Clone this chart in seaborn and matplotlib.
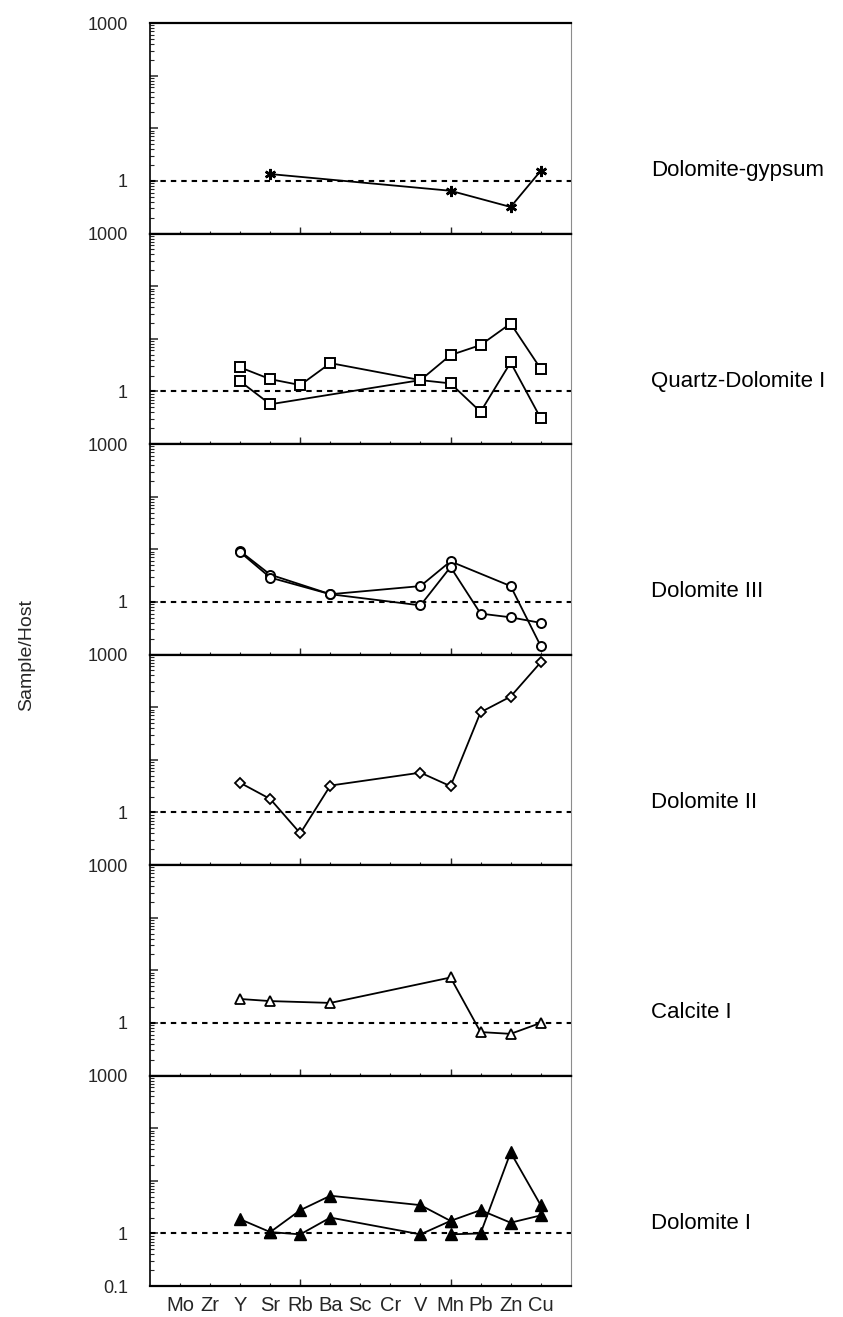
import numpy as np
import pandas as pd
import matplotlib
matplotlib.use("Agg")
import matplotlib.pyplot as plt
import matplotlib.ticker as mticker
import matplotlib.transforms as mtransforms
import seaborn as sns

# Trace-element ratios (sample / host rock) for each mineral generation
elements = ["Mo", "Zr", "Y", "Sr", "Rb", "Ba", "Sc", "Cr", "V", "Mn", "Pb", "Zn", "Cu"]

dolomite_gypsum = {
    "s1": {"Sr": 1.35, "Mn": 0.65, "Zn": 0.32, "Cu": 1.55},
}
quartz_dolomite_1 = {
    "s1": {"Y": 2.86, "Sr": 1.71, "Rb": 1.32, "Ba": 3.45, "V": 1.64,
           "Mn": 4.9, "Pb": 7.6, "Zn": 19.5, "Cu": 2.7},
    "s2": {"Y": 1.55, "Sr": 0.57, "V": 1.64, "Mn": 1.42, "Pb": 0.41,
           "Zn": 3.55, "Cu": 0.31},
}
dolomite_3 = {
    "s1": {"Y": 9.2, "Sr": 3.3, "Ba": 1.4, "V": 2.0, "Mn": 5.9,
           "Zn": 2.0, "Cu": 0.146},
    "s2": {"Y": 8.8, "Sr": 2.9, "Ba": 1.4, "V": 0.86, "Mn": 4.6,
           "Pb": 0.6, "Zn": 0.51, "Cu": 0.40},
}
dolomite_2 = {
    "s1": {"Y": 3.65, "Sr": 1.8, "Rb": 0.40, "Ba": 3.24, "V": 5.7,
           "Mn": 3.15, "Pb": 80, "Zn": 159, "Cu": 710},
}
calcite_1 = {
    "s1": {"Y": 2.85, "Sr": 2.6, "Ba": 2.4, "Mn": 7.3, "Pb": 0.67,
           "Zn": 0.62, "Cu": 1.0},
}
dolomite_1 = {
    "s1": {"Y": 1.86, "Sr": 1.06, "Rb": 2.77, "Ba": 5.2, "V": 3.45,
           "Mn": 1.73, "Pb": 2.77, "Zn": 1.6, "Cu": 2.2},
    "s2": {"Sr": 1.06, "Rb": 0.96, "Ba": 2.0, "V": 0.96, "Mn": 1.73},
    "s3": {"Mn": 0.96, "Pb": 1.0, "Zn": 34.6, "Cu": 3.45},
}

panel_names = ["Dolomite-gypsum", "Quartz-Dolomite I", "Dolomite III",
               "Dolomite II", "Calcite I", "Dolomite I"]
panel_data = [dolomite_gypsum, quartz_dolomite_1, dolomite_3,
              dolomite_2, calcite_1, dolomite_1]

# marker, size, face colour
panel_styles = [
    dict(marker=(6, 2, 0), markersize=8, markerfacecolor="black", markeredgewidth=1.8),
    dict(marker="s", markersize=7.5, markerfacecolor="white", markeredgewidth=1.4),
    dict(marker="o", markersize=6.5, markerfacecolor="white", markeredgewidth=1.4),
    dict(marker="D", markersize=5, markerfacecolor="white", markeredgewidth=1.3),
    dict(marker="^", markersize=7, markerfacecolor="white", markeredgewidth=1.3),
    dict(marker="^", markersize=8, markerfacecolor="black", markeredgewidth=1.0),
]


def to_frame(samples):
    rows = []
    for name, vals in samples.items():
        for el, v in vals.items():
            rows.append({"sample": name, "pos": elements.index(el), "ratio": v})
    return pd.DataFrame(rows)


sns.set_style("ticks")
plt.rcParams["font.family"] = ["Liberation Sans", "DejaVu Sans"]

fig, axes = plt.subplots(6, 1, figsize=(8.43, 13.17), dpi=100, sharex=True)
fig.subplots_adjust(left=0.178, right=0.677, top=0.9825, bottom=0.0235, hspace=0)

for i, (ax, name, samples, style) in enumerate(zip(axes, panel_names, panel_data, panel_styles)):
    ax.set_yscale("log")
    ax.set_ylim(0.1, 1000)
    ax.set_xlim(-1, 13)

    # reference line at ratio = 1
    ax.axhline(1, color="black", lw=1.5, dashes=(2.6, 2.4), zorder=1)

    df = to_frame(samples)
    sns.lineplot(data=df, x="pos", y="ratio", units="sample", estimator=None,
                 color="black", lw=1.3, markeredgecolor="black", ax=ax,
                 legend=False, zorder=3, clip_on=False, **style)

    ax.set_xlabel("")
    ax.set_ylabel("")

    for side in ("top", "bottom"):
        ax.spines[side].set_linewidth(1.6)
        ax.spines[side].set_color("black")
    ax.spines["left"].set_linewidth(1.2)
    ax.spines["left"].set_color("black")
    ax.spines["right"].set_linewidth(0.8)
    ax.spines["right"].set_color("0.55")
    ax.spines["right"].set_visible(True)
    ax.spines["top"].set_visible(True)

    # y axis: decades with inward minor ticks
    last = i == len(axes) - 1
    ax.set_yticks([0.1, 1, 10, 100, 1000],
                  labels=["0.1" if last else "", "1", "", "", "1000"])
    ax.yaxis.set_minor_locator(mticker.LogLocator(base=10, subs=np.arange(2, 10)))
    ax.yaxis.set_minor_formatter(mticker.NullFormatter())
    ax.tick_params(axis="y", which="major", direction="in", length=6, width=1.1,
                   labelsize=13, pad=16, right=False)
    ax.tick_params(axis="y", which="minor", direction="in", length=3, width=0.8,
                   right=False)

    # x axis: element categories
    ax.set_xticks(range(len(elements)), labels=elements)
    ax.xaxis.set_minor_locator(mticker.FixedLocator([4, 9]))
    ax.xaxis.remove_overlapping_locs = False
    ax.tick_params(axis="x", which="major", direction="in", length=2, width=0.8,
                   labelsize=14.5, pad=7, top=False, labelbottom=last)
    ax.tick_params(axis="x", which="minor", direction="in", length=5, width=1.0,
                   top=False)

    # sample group name at the right of each panel
    trans = mtransforms.blended_transform_factory(ax.transAxes, ax.transData)
    ax.text(1.19, 1.22, name, transform=trans, ha="left", va="baseline",
            fontsize=16, color="black")

fig.text(27 / 843, 1 - 655 / 1317, "Sample/Host", rotation=90,
         ha="center", va="center", fontsize=14)

fig.savefig("out.png", dpi=100)
